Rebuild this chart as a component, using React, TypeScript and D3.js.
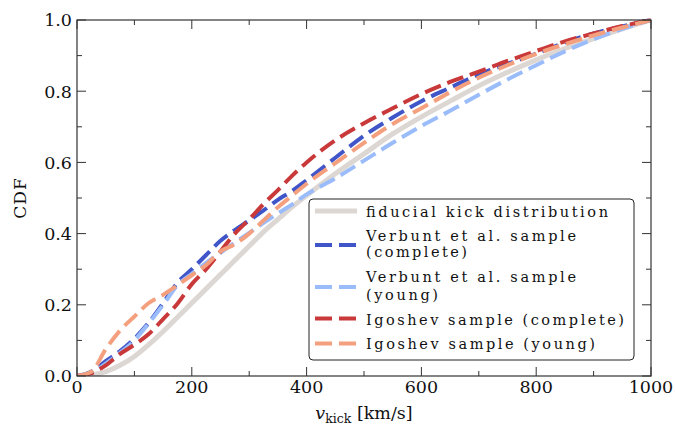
import React from "react";
import * as d3 from "d3";

const vGrid = [0, 25, 50, 75, 100, 125, 150, 175, 200, 225, 250, 275, 300, 325, 350, 375, 400, 450, 500, 550, 600, 650, 700, 750, 800, 850, 900, 950, 1000];

const fiducial = [0, 0.003, 0.012, 0.03, 0.055, 0.088, 0.125, 0.165, 0.205, 0.245, 0.285, 0.325, 0.365, 0.405, 0.44, 0.475, 0.507, 0.568, 0.624, 0.68, 0.728, 0.772, 0.815, 0.853, 0.888, 0.92, 0.948, 0.975, 1.0];
const verbuntComplete = [0, 0.012, 0.042, 0.07, 0.105, 0.15, 0.205, 0.262, 0.3, 0.34, 0.38, 0.41, 0.437, 0.465, 0.495, 0.52, 0.55, 0.613, 0.675, 0.726, 0.772, 0.81, 0.847, 0.877, 0.905, 0.937, 0.962, 0.982, 1.0];
const verbuntYoung = [0, 0.008, 0.035, 0.065, 0.1, 0.148, 0.2, 0.255, 0.287, 0.318, 0.346, 0.375, 0.402, 0.43, 0.457, 0.482, 0.51, 0.555, 0.605, 0.655, 0.702, 0.745, 0.79, 0.833, 0.873, 0.912, 0.946, 0.975, 1.0];
const igoshevComplete = [0, 0.008, 0.03, 0.062, 0.088, 0.118, 0.16, 0.203, 0.258, 0.3, 0.35, 0.4, 0.44, 0.483, 0.522, 0.563, 0.6, 0.662, 0.71, 0.752, 0.792, 0.826, 0.855, 0.885, 0.913, 0.94, 0.962, 0.983, 1.0];
const igoshevYoung = [0, 0.012, 0.075, 0.128, 0.167, 0.205, 0.228, 0.255, 0.283, 0.312, 0.35, 0.37, 0.4, 0.437, 0.474, 0.507, 0.54, 0.598, 0.655, 0.708, 0.752, 0.797, 0.838, 0.873, 0.905, 0.932, 0.957, 0.979, 1.0];

const seriesNames = [
  ["fiducial kick distribution"],
  ["Verbunt et al. sample", "(complete)"],
  ["Verbunt et al. sample", "(young)"],
  ["Igoshev sample (complete)"],
  ["Igoshev sample (young)"],
];
const seriesValues = [fiducial, verbuntComplete, verbuntYoung, igoshevComplete, igoshevYoung];
const seriesColors = ["#ddd7d4", "#3f55c8", "#9bbcfa", "#c9393a", "#f4a07f"];
const seriesDashed = [false, true, true, true, true];

const xTicks = [0, 200, 400, 600, 800, 1000];
const yTicks = [0, 0.2, 0.4, 0.6, 0.8, 1.0];

const W = 675, H = 427;
const m = { left: 77, right: 651, top: 20, bottom: 376 };
const font = "'DejaVu Serif', serif";

export default function App() {
  const x = d3.scaleLinear().domain([0, 1000]).range([m.left, m.right]);
  const y = d3.scaleLinear().domain([0, 1]).range([m.bottom, m.top]);
  const line = d3.line<number>()
    .x((_, i) => x(vGrid[i]))
    .y((d) => y(d))
    .curve(d3.curveMonotoneX);

  const xMinor = d3.range(100, 1000, 200);
  const yMinor = d3.range(0.1, 1.0, 0.2);
  const tc = "#333";
  const major = 9, minor = 5;

  const lg = { x: 309, y: 199, w: 325, h: 161 };
  const handleY = [211, 245, 287, 318.5, 343.5];
  const textBase = [[216.5], [240.5, 256.5], [282, 299.5], [324.5], [349]];
  const textLen = [242, 210, 101, 210, 72, 258, 229];
  let tl = 0;

  return (
    <svg width={W} height={H} style={{ position: "absolute", left: 0, top: 0, background: "#fff" }}>
      <defs>
        <clipPath id="plot">
          <rect x={m.left} y={m.top - 5} width={m.right - m.left} height={m.bottom - m.top + 5} />
        </clipPath>
      </defs>
      <rect x={0} y={0} width={W} height={H} fill="#fff" />
      <g clipPath="url(#plot)">
        {seriesValues.map((vals, i) => (
          <path
            key={i}
            d={line(vals) || ""}
            fill="none"
            stroke={seriesColors[i]}
            strokeWidth={seriesDashed[i] ? 4 : 5}
            strokeDasharray={seriesDashed[i] ? "17 7" : undefined}
          />
        ))}
      </g>
      <rect x={m.left} y={m.top} width={m.right - m.left} height={m.bottom - m.top} fill="none" stroke={tc} strokeWidth={1.2} />
      {xTicks.map((t) => (
        <g key={"xt" + t} stroke={tc} strokeWidth={1}>
          <line x1={x(t)} x2={x(t)} y1={m.bottom} y2={m.bottom - major} />
          <line x1={x(t)} x2={x(t)} y1={m.top} y2={m.top + major} />
        </g>
      ))}
      {xMinor.map((t) => (
        <g key={"xm" + t} stroke={tc} strokeWidth={1}>
          <line x1={x(t)} x2={x(t)} y1={m.bottom} y2={m.bottom - minor} />
          <line x1={x(t)} x2={x(t)} y1={m.top} y2={m.top + minor} />
        </g>
      ))}
      {yTicks.map((t) => (
        <g key={"yt" + t} stroke={tc} strokeWidth={1}>
          <line x1={m.left} x2={m.left + major} y1={y(t)} y2={y(t)} />
          <line x1={m.right} x2={m.right - major} y1={y(t)} y2={y(t)} />
        </g>
      ))}
      {yMinor.map((t) => (
        <g key={"ym" + t} stroke={tc} strokeWidth={1}>
          <line x1={m.left} x2={m.left + minor} y1={y(t)} y2={y(t)} />
          <line x1={m.right} x2={m.right - minor} y1={y(t)} y2={y(t)} />
        </g>
      ))}
      {xTicks.map((t) => (
        <text key={"xl" + t} x={x(t)} y={393} textAnchor="middle" fontFamily={font} fontSize={17.5} fill="#111">
          {String(t)}
        </text>
      ))}
      {yTicks.map((t) => (
        <text key={"yl" + t} x={72} y={y(t) + 6.3} textAnchor="end" fontFamily={font} fontSize={17.5} fill="#111">
          {t.toFixed(1)}
        </text>
      ))}
      <text transform={`translate(26,${(m.top + m.bottom) / 2}) rotate(-90)`} textAnchor="middle" fontFamily={font} fontSize={17} letterSpacing={1} fill="#111">
        CDF
      </text>
      <text x={(m.left + m.right) / 2} y={419} textAnchor="middle" fontFamily={font} fontSize={17.5} fill="#111">
        <tspan fontStyle="italic">v</tspan>
        <tspan fontSize={12.5} dy={3.5}>kick</tspan>
        <tspan dy={-3.5}>{"\u00a0[km/s]"}</tspan>
      </text>
      <rect x={lg.x} y={lg.y} width={lg.w} height={lg.h} rx={4} fill="#fff" fillOpacity={0.9} stroke="#222" strokeWidth={1} />
      {seriesNames.map((names, i) => (
        <g key={"lg" + i}>
          <line
            x1={315}
            x2={357}
            y1={handleY[i]}
            y2={handleY[i]}
            stroke={seriesColors[i]}
            strokeWidth={seriesDashed[i] ? 4 : 5}
            strokeDasharray={seriesDashed[i] ? "17 7" : undefined}
          />
          {names.map((n, j) => {
            const len = textLen[tl++];
            return (
              <text key={j} x={366} y={textBase[i][j]} fontFamily={font} fontSize={14.5} fill="#111" textLength={len} lengthAdjust="spacing">
                {n}
              </text>
            );
          })}
        </g>
      ))}
    </svg>
  );
}
